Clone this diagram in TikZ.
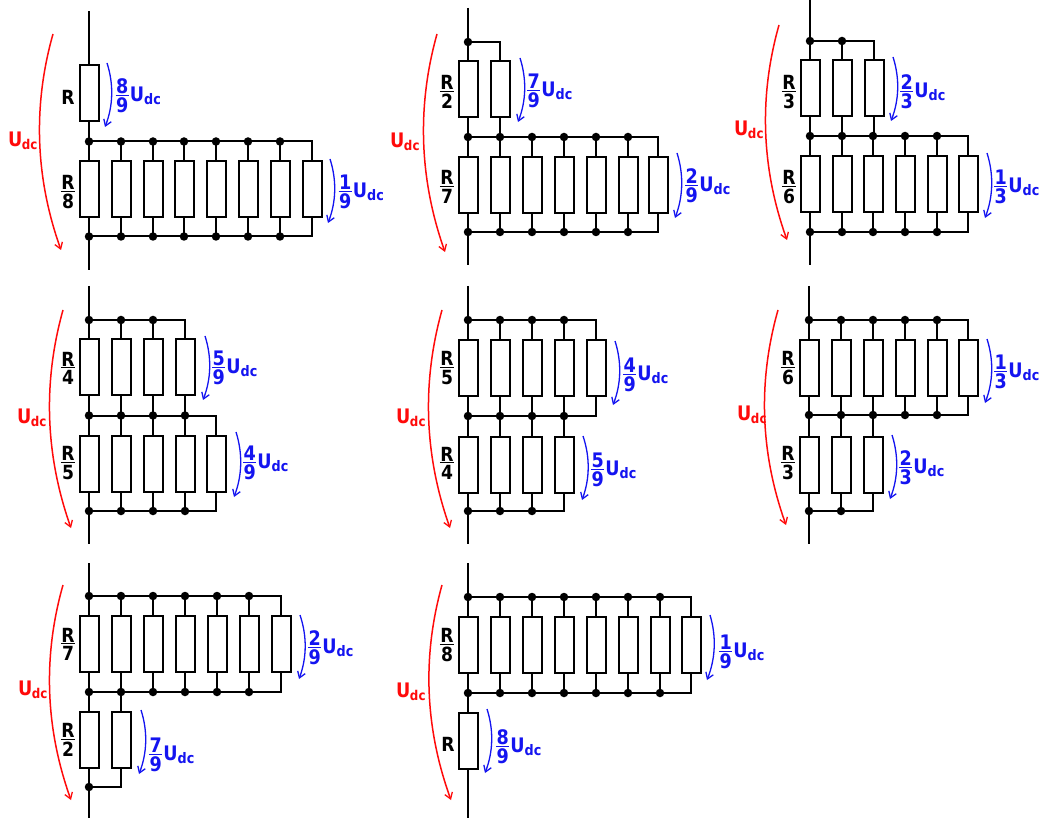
\documentclass[tikz,border=0pt]{standalone}
\usepackage{fontspec}
\setmainfont{DejaVu Sans Bold}[FakeStretch=0.88]
\usetikzlibrary{arrows.meta}
\definecolor{bl}{RGB}{20,20,240}
\definecolor{rd}{RGB}{255,10,10}
\newcommand\fr[2]{$\vcenter{\offinterlineskip\halign{\hfil##\hfil\cr\kern.5pt\hbox{#1}\kern.5pt\cr\noalign{\kern1.2pt\hrule height 1.2pt\kern1.6pt}\hbox{#2}\cr}}$}
\newcommand\fb[2]{\fr{#1}{#2}}
\newcommand\udc{\kern1pt U\raisebox{-3.5pt}{\fontsize{14.5}{14}\selectfont dc}}
\newcommand\rdc{U\kern-.5pt\raisebox{-3.5pt}{\fontsize{13.5}{14}\selectfont dc}}
\tikzset{
  x=1pt,y=-1pt,
  res/.style={draw=black,fill=white,line width=2pt,minimum width=19pt,minimum height=56pt,inner sep=0pt,outer sep=0pt},
  wire/.style={draw=black,line width=2pt,line cap=rect},
  jn/.style={circle,fill=black,draw=none,minimum size=8.5pt,inner sep=0pt,outer sep=0pt},
  blab/.style={text=bl,anchor=west,inner sep=0pt,font=\fontsize{20}{20}\selectfont},
  rlab/.style={text=rd,anchor=west,inner sep=0pt,font=\fontsize{20}{20}\selectfont},
  klab/.style={text=black,inner sep=0pt,font=\fontsize{19.5}{20}\selectfont},
  barb/.style={-{Straight Barb[length=6pt,width=8pt,line width=1.3pt]}},
  barc/.style={line width=1.5pt,draw=rd,barb},
  barv/.style={line width=1.3pt,draw=bl,barb},
}
% prefix, x-list, N, top bus y, centre y, bottom bus y, top dots, bottom dots
\newcommand\bank[8]{%
  \foreach \x [count=\i] in {#2}{%
    \coordinate (#1t\i) at (\x,#4);
    \coordinate (#1b\i) at (\x,#6);
    \node[res] (#1r\i) at (\x,#5) {};
    \draw[wire] (#1t\i) -- (#1r\i.north);
    \draw[wire] (#1r\i.south) -- (#1b\i);
    \ifnum\i<#7 \node[jn] (#1dt\i) at (#1t\i) {};\fi
    \ifnum\i<#8 \node[jn] (#1db\i) at (#1b\i) {};\fi
  }
  \draw[wire] (#1t1) -- (#1t#3);
  \draw[wire] (#1b1) -- (#1b#3);
}
% name, x1,y1,x2,y2,bulge,style
\newcommand\volt[7]{%
  \coordinate (#1s) at (#2,#3);
  \coordinate (#1e) at (#4,#5);
  \coordinate (#1p) at ({#2+(#4-#2)/3+#6},{#3+(#5-#3)/3});
  \coordinate (#1q) at ({#2+2*(#4-#2)/3+#6},{#3+2*(#5-#3)/3});
  \draw[#7] (#1s) .. controls (#1p) and (#1q) .. (#1e);
}
% name, x, ytop, ybot, joining node names
\newcommand\feed[6]{%
  \coordinate (#1a) at (#2,#3);
  \coordinate (#1z) at (#2,#4);
  \draw[wire,line cap=butt] (#1a) -- (#5);
  \draw[wire,line cap=butt] (#6) -- (#1z);
}
\begin{document}
\begin{tikzpicture}
\useasboundingbox (0,0) rectangle (1042,818);
\fill[white] (0,0) rectangle (1042,818);
% Panel 1
\bank{A}{89}{1}{12}{93.5}{141.5}{0}{0}
\bank{B}{89,121,153,184,216,248,280,312}{8}{141.5}{189.5}{236.5}{8}{8}
\feed{Aw}{89}{12}{270}{Ar1.north}{Bb1}
\volt{Av1}{53}{34}{61}{250}{-23}{barc}
\volt{Av2}{107}{63}{105}{127}{7.5}{barv}
\volt{Av3}{330}{159}{328}{223}{7.5}{barv}
\node[rlab] (Al0) at (8,141) {\rdc};
\node[blab] (Al1) at (115.5,96) {\fb{8}{9}\udc};
\node[blab] (Al2) at (338.5,192) {\fb{1}{9}\udc};
\node[klab] (Ak1) at (68,97) {R};
\node[klab] (Ak2) at (68,192) {\fb{R}{8}};
% Panel 2
\bank{C}{468,500}{2}{42}{89.5}{137}{2}{0}
\bank{D}{468,500,532,564,596,628,658}{7}{137}{185.5}{232}{7}{7}
\feed{Cw}{468}{8}{265}{Ct1}{Db1}
\volt{Cv1}{437}{34}{445}{252}{-23}{barc}
\volt{Cv2}{520}{58}{518}{122}{7.5}{barv}
\volt{Cv3}{677}{153}{675}{218}{7.5}{barv}
\node[rlab] (Cl0) at (390,142) {\rdc};
\node[blab] (Cl1) at (527,91) {\fb{7}{9}\udc};
\node[blab] (Cl2) at (685,186) {\fb{2}{9}\udc};
\node[klab] (Ck1) at (447,92) {\fb{R}{2}};
\node[klab] (Ck2) at (447,187) {\fb{R}{7}};
% Panel 3
\bank{E}{810,842,874}{3}{41}{88.5}{136}{3}{0}
\bank{F}{810,842,873,905,937,968}{6}{136}{184.5}{232}{6}{6}
\feed{Ew}{810}{0}{265}{Et1}{Fb1}
\volt{Ev1}{779}{25}{787}{240}{-23}{barc}
\volt{Ev2}{893}{57}{891}{121}{7.5}{barv}
\volt{Ev3}{987}{153}{985}{218}{7.5}{barv}
\node[rlab] (El0) at (734,130) {\rdc};
\node[blab] (El1) at (900,92) {\fb{2}{3}\udc};
\node[blab] (El2) at (994,187) {\fb{1}{3}\udc};
\node[klab] (Ek1) at (789,92) {\fb{R}{3}};
\node[klab] (Ek2) at (789,187) {\fb{R}{6}};
% Panel 4
\bank{G}{89,121,153,185}{4}{320}{367.5}{415.5}{4}{0}
\bank{H}{89,121,153,185,216}{5}{415.5}{463.5}{511}{5}{5}
\feed{Gw}{89}{286}{544}{Gt1}{Hb1}
\volt{Gv1}{63}{310}{71}{528}{-23}{barc}
\volt{Gv2}{205}{336}{203}{400}{7.5}{barv}
\volt{Gv3}{236}{432}{234}{497}{7.5}{barv}
\node[rlab] (Gl0) at (17,418) {\rdc};
\node[blab] (Gl1) at (212,368) {\fb{5}{9}\udc};
\node[blab] (Gl2) at (243,463) {\fb{4}{9}\udc};
\node[klab] (Gk1) at (68,368) {\fb{R}{4}};
\node[klab] (Gk2) at (68,463) {\fb{R}{5}};
% Panel 5
\bank{I}{468,500,532,564,596}{5}{320}{368.5}{416}{5}{5}
\bank{J}{468,500,532,564}{4}{416}{464.5}{511}{0}{4}
\feed{Iw}{468}{286}{544}{It1}{Jb1}
\volt{Iv1}{442}{310}{450}{528}{-23}{barc}
\volt{Iv2}{615}{341}{613}{405}{7.5}{barv}
\volt{Iv3}{583}{436}{582}{500}{7.5}{barv}
\node[rlab] (Il0) at (396,418) {\rdc};
\node[blab] (Il1) at (623,375) {\fb{4}{9}\udc};
\node[blab] (Il2) at (591,470) {\fb{5}{9}\udc};
\node[klab] (Ik1) at (447,368) {\fb{R}{5}};
\node[klab] (Ik2) at (447,463) {\fb{R}{4}};
% Panel 6
\bank{K}{809,841,873,905,937,968}{6}{320}{368.5}{415}{6}{6}
\bank{L}{809,841,873}{3}{415}{464.5}{511}{0}{3}
\feed{Kw}{809}{286}{544}{Kt1}{Lb1}
\volt{Kv1}{778}{310}{786}{525}{-23}{barc}
\volt{Kv2}{987}{339}{985}{403}{7.5}{barv}
\volt{Kv3}{892}{435}{890}{499}{7.5}{barv}
\node[rlab] (Kl0) at (737,415) {\rdc};
\node[blab] (Kl1) at (994,372) {\fb{1}{3}\udc};
\node[blab] (Kl2) at (899,468) {\fb{2}{3}\udc};
\node[klab] (Kk1) at (788,368) {\fb{R}{6}};
\node[klab] (Kk2) at (788,463) {\fb{R}{3}};
% Panel 7
\bank{M}{89,121,153,185,217,249,281}{7}{596}{644}{692}{7}{7}
\bank{N}{89,121}{2}{692}{739.5}{787}{0}{2}
\feed{Mw}{89}{563}{818}{Mt1}{Nb1}
\volt{Mv1}{63}{585}{71}{800}{-23}{barc}
\volt{Mv2}{300}{615}{299}{679}{7.5}{barv}
\volt{Mv3}{141}{710}{139}{774}{7.5}{barv}
\node[rlab] (Ml0) at (18,690) {\rdc};
\node[blab] (Ml1) at (308,648) {\fb{2}{9}\udc};
\node[blab] (Ml2) at (149,755) {\fb{7}{9}\udc};
\node[klab] (Mk1) at (68,644) {\fb{R}{7}};
\node[klab] (Mk2) at (68,740) {\fb{R}{2}};
% Panel 8
\bank{O}{468,500,532,564,596,628,660,691}{8}{597}{644.5}{693}{8}{8}
\bank{P}{468}{1}{693}{740.5}{818}{0}{0}
\feed{Ow}{468}{563}{818}{Ot1}{Pr1.south}
\volt{Ov1}{442}{585}{451}{800}{-23}{barc}
\volt{Ov2}{710}{615}{707}{680}{7.5}{barv}
\volt{Ov3}{487}{709}{485}{773}{7.5}{barv}
\node[rlab] (Ol0) at (396,692) {\rdc};
\node[blab] (Ol1) at (719,652) {\fb{1}{9}\udc};
\node[blab] (Ol2) at (496,747) {\fb{8}{9}\udc};
\node[klab] (Ok1) at (447,645) {\fb{R}{8}};
\node[klab] (Ok2) at (448,744) {R};
\end{tikzpicture}
\end{document}
